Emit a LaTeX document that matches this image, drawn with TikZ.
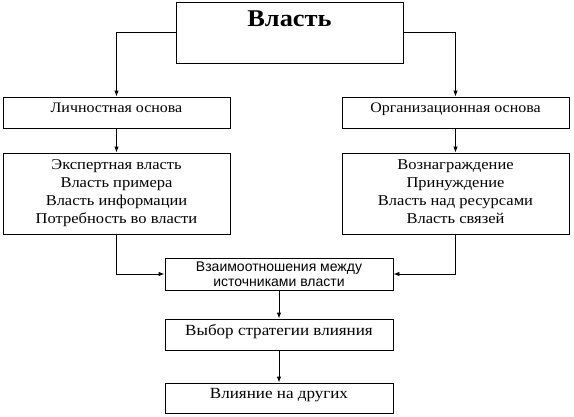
\documentclass[tikz,border=0pt]{standalone}
\usepackage{fontspec}
\setmainfont{Liberation Serif}[FakeStretch=1.1]
\newfontfamily\arialfont{Liberation Sans}
\usetikzlibrary{arrows.meta}

\begin{document}
\begin{tikzpicture}[x=1pt, y=-1pt, line width=0.9pt,
  >={Latex[length=6pt,width=4.5pt]},
  box/.style={draw, minimum width=227pt, inner sep=0pt},
  txt/.style={inner sep=0pt, align=center}]
\useasboundingbox (0,0) rectangle (574,416);

% boxes
\node[box, minimum height=61pt] (vlast) at (289.5,32.5) {};
\node[box, minimum height=31pt] (lichn) at (116.5,112.5) {};
\node[box, minimum height=31pt] (org) at (455.5,112.5) {};
\node[box, minimum height=81pt] (lichlist) at (116.5,193.5) {};
\node[box, minimum height=81pt] (orglist) at (455.5,193.5) {};
\node[box, minimum width=228pt, minimum height=32pt, font=\arialfont\fontsize{14}{15.5}\selectfont, align=center] (vzaim) at (279,274)
  {Взаимоотношения между\\источниками власти};
\node[box, minimum width=228pt, minimum height=31pt] (vybor) at (279,334.5) {};
\node[box, minimum width=228pt, minimum height=30pt] (vliyanie) at (279,398) {};

% texts
\node[txt, anchor=base, font=\bfseries\fontsize{24}{28}\selectfont] (vlasttxt) at (289.5,26) {Власть};
\node[txt, anchor=base, font=\fontsize{14.5}{18}\selectfont] (lichntxt) at (116.5,112.3) {Личностная основа};
\node[txt, anchor=base, font=\fontsize{14.5}{18}\selectfont] (orgtxt) at (455.5,112.3) {Организационная основа};
\node[txt, anchor=north, font=\fontsize{15}{18}\selectfont] (lichlisttxt) at (116.5,159)
  {Экспертная власть\\Власть примера\\Власть информации\\Потребность во власти};
\node[txt, anchor=north, font=\fontsize{15}{18}\selectfont] (orglisttxt) at (455.5,159)
  {Вознаграждение\\Принуждение\\Власть над ресурсами\\Власть связей};
\node[txt, anchor=base, font=\fontsize{15.5}{20}\selectfont] (vybortxt) at (279,335) {Выбор стратегии влияния};
\node[txt, anchor=base, font=\fontsize{15.5}{20}\selectfont] (vliyanietxt) at (279,398.3) {Влияние на других};

% arrows
\draw[->] (vlast.west) -| (lichn.north);
\draw[->] (vlast.east) -| (org.north);
\draw[->] (lichn) -- (lichlist);
\draw[->] (org) -- (orglist);
\draw[->] (lichlist.south) |- (vzaim.west);
\draw[->] (orglist.south) |- (vzaim.east);
\draw[->] (vzaim) -- (vybor);
\draw[->] (vybor) -- (vliyanie);

\end{tikzpicture}
\end{document}
